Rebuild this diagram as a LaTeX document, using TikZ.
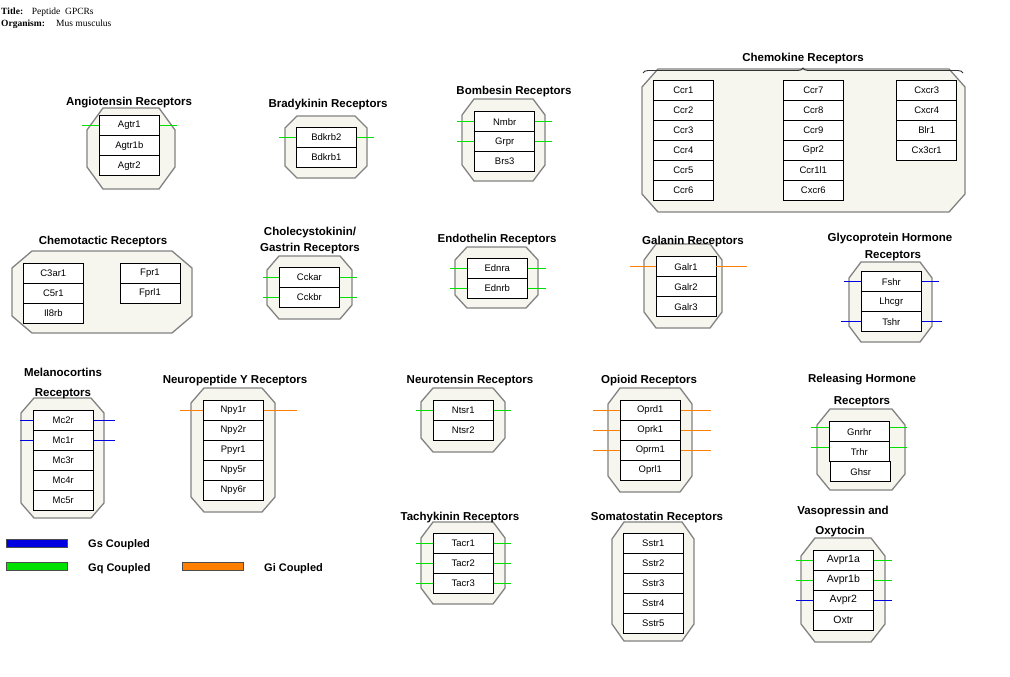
\documentclass[tikz,border=0pt]{standalone}
\usepackage{fontspec}
\setmainfont{Liberation Sans}
\newfontfamily\serifface{Liberation Serif}
\usetikzlibrary{decorations.pathreplacing}
\definecolor{octfill}{RGB}{246,246,238}
\definecolor{octline}{RGB}{130,130,130}
\definecolor{gqcol}{RGB}{0,225,0}
\definecolor{gscol}{RGB}{0,0,225}
\definecolor{gicol}{RGB}{255,128,0}
\newcommand\octagon[6]{\draw[octo] ({#1+#5},#2) -- ({#3-#5},#2) -- (#3,{#2+#6}) -- (#3,{#4-#6}) -- ({#3-#5},#4) -- ({#1+#5},#4) -- (#1,{#4-#6}) -- (#1,{#2+#6}) -- cycle;}
\newcommand\stack[4][]{\foreach \n [count=\idx] in {#4} {\node[rbox,#1] (\n) at (#2,{#3-10+20*\idx}) {\n};}}
\newcommand\stub[4]{\draw[stub,#2] (#1.west) -- +(-#3,0); \draw[stub,#2] (#1.east) -- +(#4,0);}
\tikzset{
 octo/.style={draw=octline, fill=octfill, line width=1.3pt, line join=miter},
 rbox/.style={draw=black, fill=white, line width=0.9pt, minimum width=60pt, minimum height=20pt, inner sep=0pt, font=\fontsize{9.5}{11}\selectfont},
 stub/.style={line width=1pt},
 ttl/.style={anchor=base, inner sep=0pt, font=\fontsize{11.5}{13}\selectfont\bfseries},
 legtext/.style={anchor=base west, inner sep=0pt, font=\fontsize{11}{13}\selectfont\bfseries},
 legbox/.style={draw=black!70, line width=0.6pt, minimum width=61pt, minimum height=8pt, inner sep=0pt},
 hdr/.style={anchor=base west, inner sep=0pt, font=\serifface\fontsize{9.5}{11}\selectfont}
}
\begin{document}
\begin{tikzpicture}[x=1pt,y=-1pt]
\useasboundingbox (0,0) rectangle (1010,677);
\fill[white] (0,0) rectangle (1010,677);
% header
\node[hdr] (tlab) at (1,15) {\bfseries Title:};
\node[hdr] (tval) at (31.7,15) {Peptide\ \ GPCRs};
\node[hdr] (olab) at (1,27) {\bfseries Organism:};
\node[hdr] (oval) at (56,27) {Mus musculus};
% Angiotensin
\octagon{87}{108}{175}{189}{16}{22}
\stack{129.3}{115.7}{Agtr1,Agtr1b,Agtr2}
\stub{Agtr1}{gqcol}{17}{17}
\node[ttl] (tAng) at (129,105.7) {Angiotensin Receptors};
% Bradykinin
\octagon{285}{116}{367}{178}{12}{12}
\stack{326.3}{127.3}{Bdkrb2,Bdkrb1}
\stub{Bdkrb2}{gqcol}{17}{17}
\node[ttl] (tBrad) at (328,107.3) {Bradykinin Receptors};
% Bombesin
\octagon{462}{99}{545}{181}{12}{16}
\stack{504.7}{111.7}{Nmbr,Grpr,Brs3}
\stub{Nmbr}{gqcol}{17}{17}
\stub{Grpr}{gqcol}{17}{17}
\node[ttl] (tBomb) at (514,95) {Bombesin Receptors};
% Chemokine
\octagon{642}{69}{965}{212}{16}{18}
\stack{683.3}{80}{Ccr1,Ccr2,Ccr3,Ccr4,Ccr5,Ccr6}
\stack{813.3}{80}{Ccr7,Ccr8,Ccr9,Gpr2,Ccr1l1,Cxcr6}
\stack{926.7}{80}{Cxcr3,Cxcr4,Blr1,Cx3cr1}
\coordinate (brL) at (643,73);
\coordinate (brR) at (963,73);
\draw[decorate, decoration={brace, amplitude=5pt}, line width=0.9pt, black!80] (brL) -- (brR);
\node[ttl] (tChemok) at (803,61.7) {Chemokine Receptors};
% Chemotactic
\octagon{12}{251}{192}{333}{20}{17}
\stack{53.3}{263.3}{C3ar1,C5r1,Il8rb}
\stack{150}{263.3}{Fpr1,Fprl1}
\node[ttl] (tChemot) at (103,244) {Chemotactic Receptors};
% Cholecystokinin
\octagon{267}{256}{352}{319}{12}{14}
\stack{309.3}{267.3}{Cckar,Cckbr}
\stub{Cckar}{gqcol}{16}{17}
\stub{Cckbr}{gqcol}{16}{17}
\node[ttl] (tChol1) at (310,235.7) {Cholecystokinin/};
\node[ttl] (tChol2) at (310,251.7) {Gastrin Receptors};
% Endothelin
\octagon{455}{247}{538}{308}{12}{13}
\stack{497.3}{258.3}{Ednra,Ednrb}
\stub{Ednra}{gqcol}{17}{18}
\stub{Ednrb}{gqcol}{17}{18}
\node[ttl] (tEndo) at (497,242.7) {Endothelin Receptors};
% Galanin
\octagon{644}{244}{722}{328}{12}{16}
\stack{686}{256.7}{Galr1,Galr2,Galr3}
\stub{Galr1}{gicol}{26}{31}
\node[ttl] (tGal) at (693,244) {Galanin Receptors};
% Glycoprotein
\octagon{849}{262}{932}{342}{12}{16}
\stack{891.3}{271.7}{Fshr,Lhcgr,Tshr}
\stub{Fshr}{gscol}{17}{17}
\stub{Tshr}{gscol}{20}{20}
\node[ttl] (tGly1) at (890,241.7) {Glycoprotein Hormone};
\node[ttl] (tGly2) at (893,258.3) {Receptors};
% Melanocortins
\octagon{21}{398}{104}{518}{13}{15}
\stack{63.3}{410}{Mc2r,Mc1r,Mc3r,Mc4r,Mc5r}
\stub{Mc2r}{gscol}{13}{21}
\stub{Mc1r}{gscol}{13}{21}
\node[ttl] (tMel1) at (63,376.7) {Melanocortins};
\node[ttl] (tMel2) at (63,396.7) {Receptors};
% Neuropeptide Y
\octagon{191}{388}{275}{512}{13}{15}
\stack{233.3}{400}{Npy1r,Npy2r,Ppyr1,Npy5r,Npy6r}
\stub{Npy1r}{gicol}{23}{33}
\node[ttl] (tNpy) at (235,383.3) {Neuropeptide Y Receptors};
% Neurotensin
\octagon{421}{388}{505}{452}{12}{14}
\stack{463.3}{400}{Ntsr1,Ntsr2}
\stub{Ntsr1}{gqcol}{17}{17}
\node[ttl] (tNts) at (470,383.3) {Neurotensin Receptors};
% Opioid
\octagon{608}{388}{692}{492}{12}{16}
\stack{650.3}{400}{Oprd1,Oprk1,Oprm1,Oprl1}
\stub{Oprd1}{gicol}{27}{30}
\stub{Oprk1}{gicol}{27}{30}
\stub{Oprm1}{gicol}{27}{30}
\node[ttl] (tOpi) at (649,383.3) {Opioid Receptors};
% Releasing hormone
\octagon{817}{409}{905}{490}{13}{16}
\node[rbox] (Gnrhr) at (859.3,431.7) {Gnrhr};
\node[rbox] (Trhr) at (859.3,451.7) {Trhr};
\node[rbox] (Ghsr) at (860.7,471.7) {Ghsr};
\draw[stub,gqcol] ([yshift=4pt]Gnrhr.west) -- +(-18,0);
\draw[stub,gqcol] ([yshift=4pt]Gnrhr.east) -- +(17,0);
\draw[stub,gqcol] ([yshift=4pt]Trhr.west) -- +(-18,0);
\draw[stub,gqcol] ([yshift=4pt]Trhr.east) -- +(17,0);
\node[ttl] (tRel1) at (862,382.3) {Releasing Hormone};
\node[ttl] (tRel2) at (862,404) {Receptors};
% Tachykinin
\octagon{421}{522}{505}{604}{12}{16}
\stack{463.3}{533.3}{Tacr1,Tacr2,Tacr3}
\stub{Tacr1}{gqcol}{17}{17}
\stub{Tacr2}{gqcol}{17}{17}
\stub{Tacr3}{gqcol}{17}{17}
\node[ttl] (tTac) at (460,520.7) {Tachykinin Receptors};
% Somatostatin
\octagon{612}{522}{694}{641}{12}{17}
\stack{653.3}{533.3}{Sstr1,Sstr2,Sstr3,Sstr4,Sstr5}
\node[ttl] (tSst) at (657,520.7) {Somatostatin Receptors};
% Vasopressin
\octagon{801}{538}{885}{642}{14}{18}
\stack[font=\fontsize{10.5}{12}\selectfont]{843.3}{550}{Avpr1a,Avpr1b,Avpr2,Oxtr}
\stub{Avpr1a}{gqcol}{17}{18}
\stub{Avpr1b}{gqcol}{17}{18}
\stub{Avpr2}{gscol}{17}{18}
\node[ttl] (tVas1) at (843,514) {Vasopressin and};
\node[ttl] (tVas2) at (840,534) {Oxytocin};
% Legend
\node[legbox, fill=gscol] (gsbox) at (36.5,543) {};
\node[legtext] (gstext) at (88,547) {Gs Coupled};
\node[legbox, fill=gqcol] (gqbox) at (36.5,566.5) {};
\node[legtext] (gqtext) at (88,571) {Gq Coupled};
\node[legbox, fill=gicol] (gibox) at (212.5,566.5) {};
\node[legtext] (gitext) at (264,571) {Gi Coupled};
\end{tikzpicture}
\end{document}
